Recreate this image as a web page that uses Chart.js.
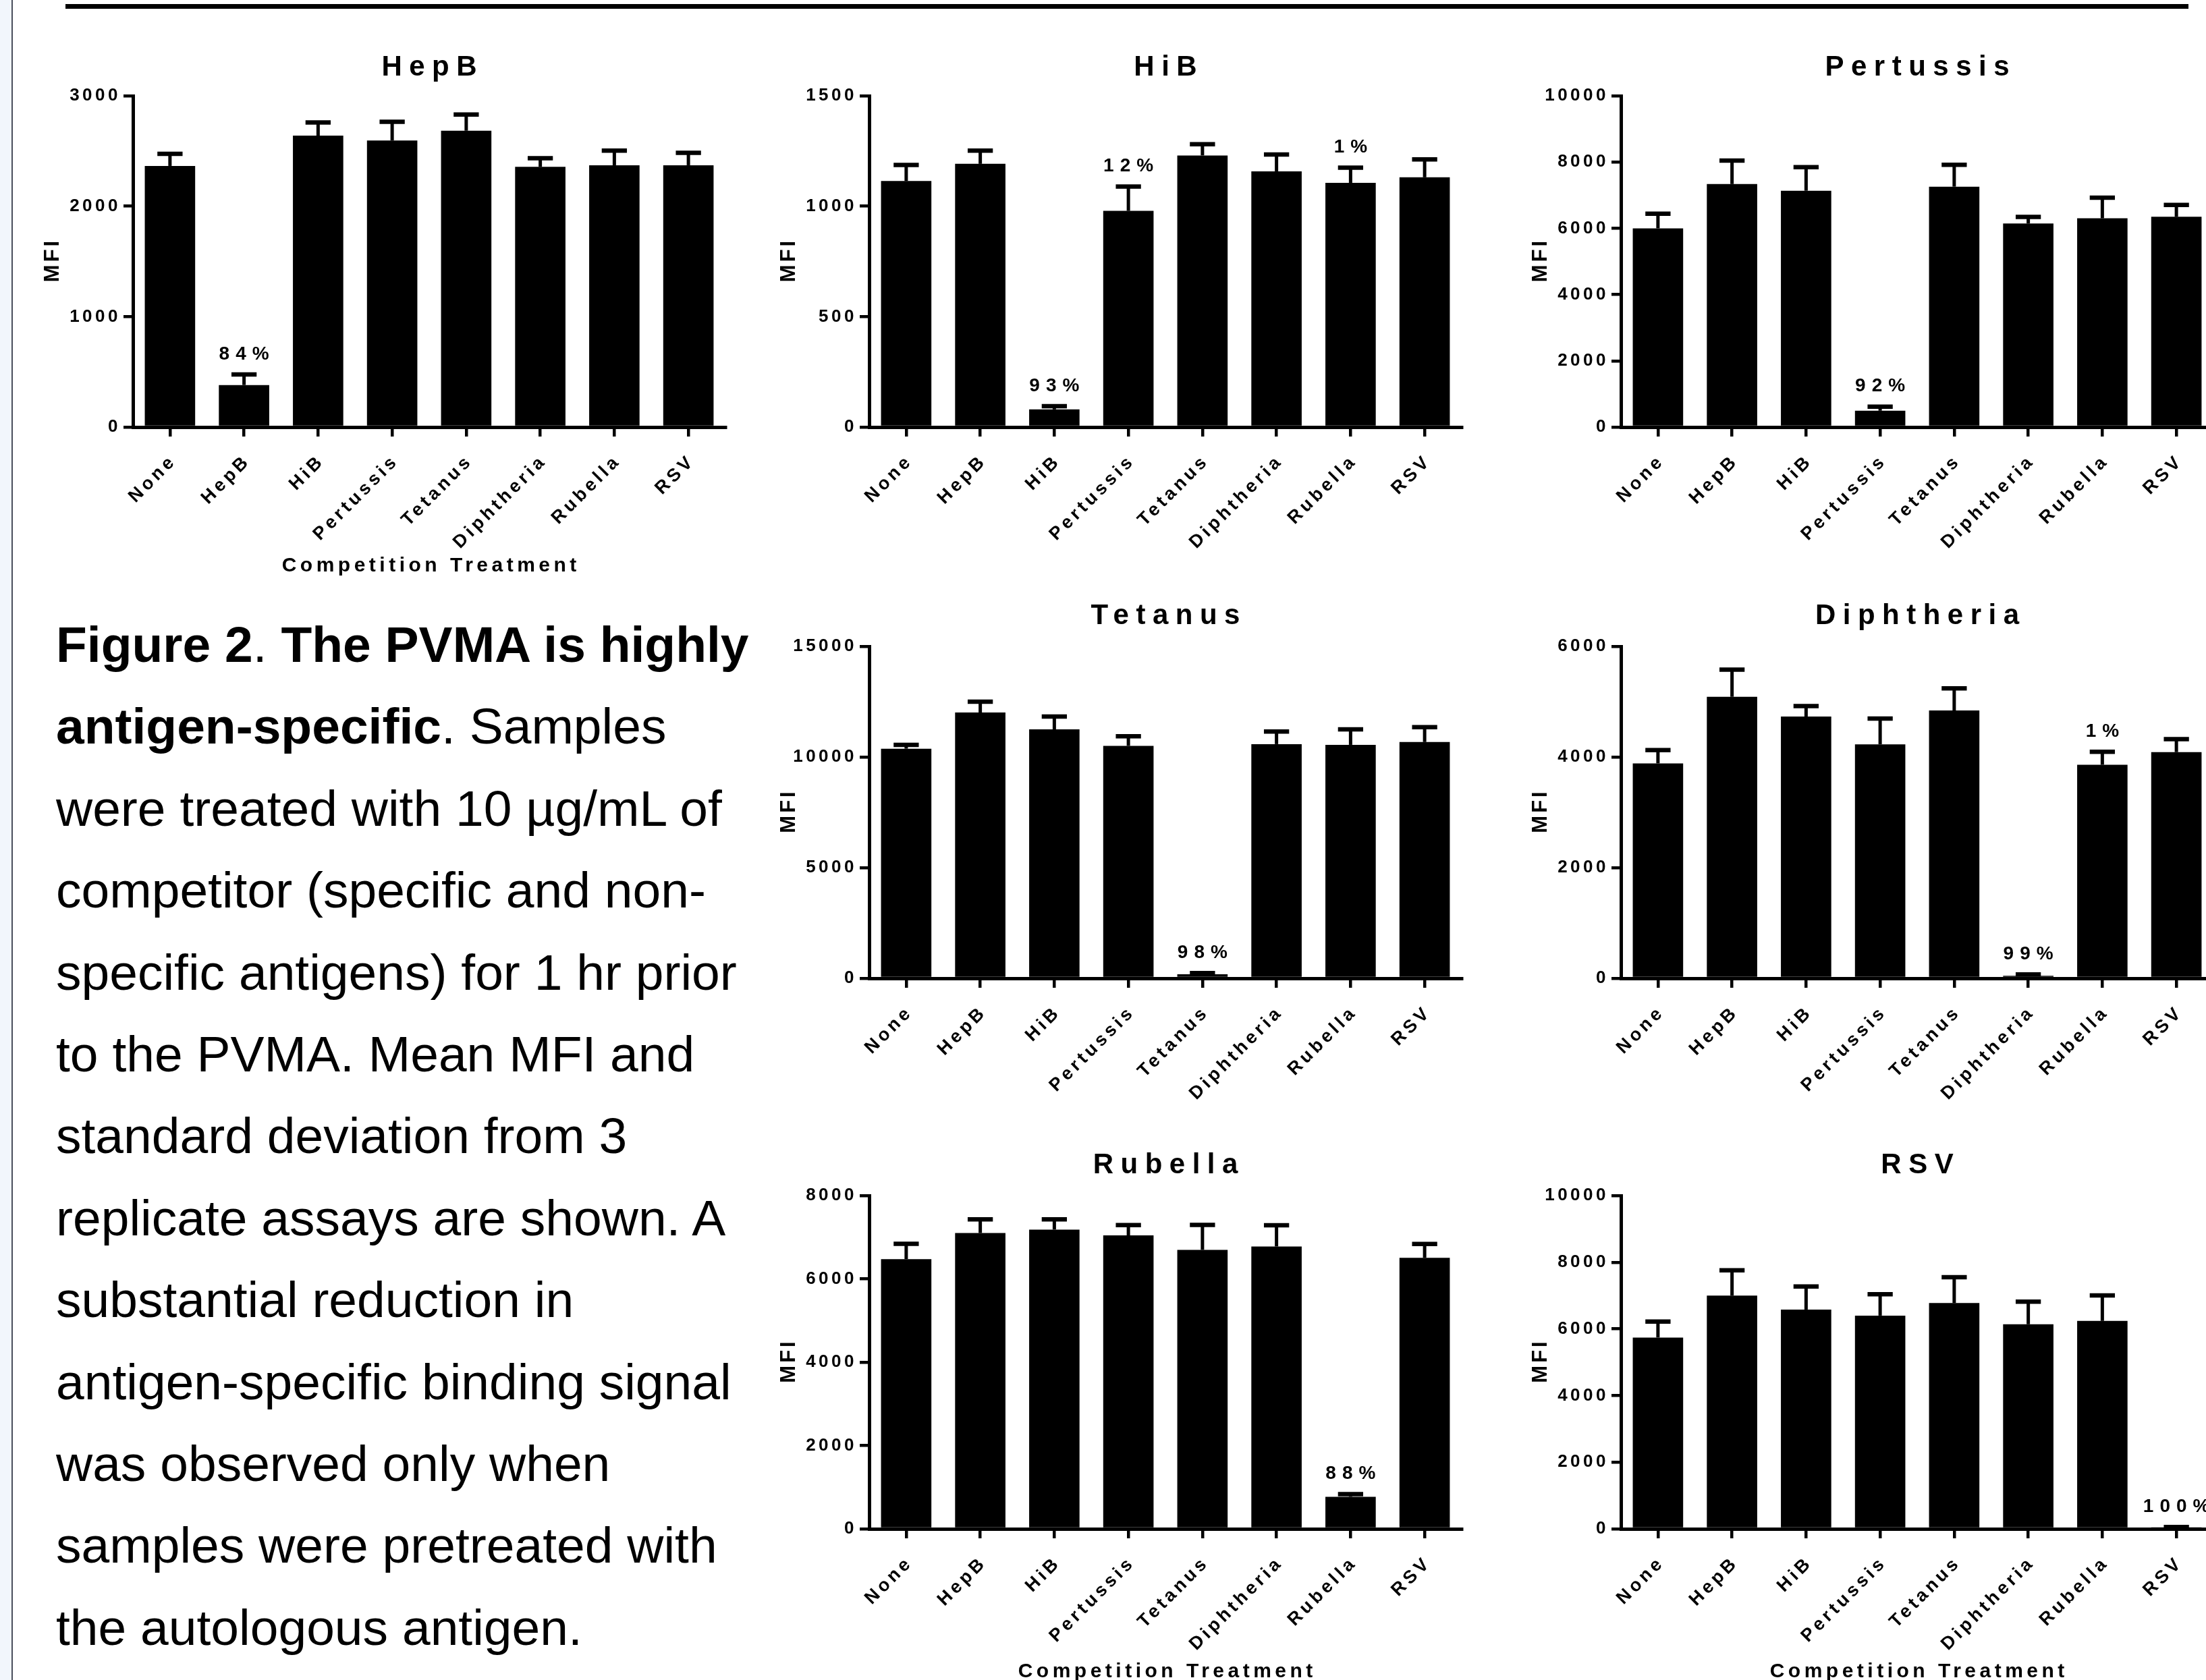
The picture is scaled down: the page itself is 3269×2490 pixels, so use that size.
<!DOCTYPE html>
<html>
<head>
<meta charset="utf-8">
<title>Figure 2. The PVMA is highly antigen-specific</title>
<script src="https://cdn.jsdelivr.net/npm/chart.js@4.4.1/dist/chart.umd.min.js"></script>
<style>
  html, body { margin: 0; padding: 0; background: #fff; overflow: hidden; }
  #page { position: relative; width: 3269px; height: 2490px; overflow: hidden; background: #fff; }
  .edge { position: absolute; left: 0; top: 0; width: 17px; height: 2490px; background: #f2f6fc; border-right: 2px solid #4a4f5c; }
  .rule { position: absolute; left: 97px; top: 6px; width: 3146px; height: 7px; background: #000; }
  .caption { position: absolute; left: 83px; top: 895px; font-family: "Liberation Sans", Arial, Helvetica, sans-serif;
             font-size: 75px; line-height: 121.4px; color: #000; white-space: nowrap; }
  canvas { position: absolute; }
</style>
</head>
<body>
<div id="page">
  <div class="edge"></div>
  <div class="rule"></div>
  <div class="caption">
    <div><b>Figure 2</b>. <b>The PVMA is highly</b></div>
    <div><b>antigen-specific</b>. Samples</div>
    <div>were treated with 10 µg/mL of</div>
    <div>competitor (specific and non-</div>
    <div>specific antigens) for 1 hr prior</div>
    <div>to the PVMA. Mean MFI and</div>
    <div>standard deviation from 3</div>
    <div>replicate assays are shown. A</div>
    <div>substantial reduction in</div>
    <div>antigen-specific binding signal</div>
    <div>was observed only when</div>
    <div>samples were pretreated with</div>
    <div>the autologous antigen.</div>
  </div>
</div>
<script>
// Competition treatments (x categories, same for every assay)
const categories = ['None', 'HepB', 'HiB', 'Pertussis', 'Tetanus', 'Diphtheria', 'Rubella', 'RSV'];

// HepB assay: mean MFI, SD, y ticks, treatments annotated with % reduction
const hepbMean   = [2365, 381, 2639, 2595, 2684, 2357, 2371, 2371];
const hepbSD     = [110, 95, 120, 170, 146, 78, 132, 112];
const hepbTicks  = [0, 1000, 2000, 3000];
const hepbMarked = [1];

// HiB assay
const hibMean   = [1114, 1192, 80, 979, 1230, 1158, 1106, 1131];
const hibSD     = [73, 60, 15, 110, 51, 76, 69, 81];
const hibTicks  = [0, 500, 1000, 1500];
const hibMarked = [2, 3, 6];

// Pertussis assay
const pertMean   = [6000, 7337, 7135, 494, 7258, 6146, 6303, 6348];
const pertSD     = [440, 710, 710, 124, 660, 200, 620, 360];
const pertTicks  = [0, 2000, 4000, 6000, 8000, 10000];
const pertMarked = [3];

// Tetanus assay
const tetMean   = [10377, 12013, 11250, 10504, 180, 10583, 10551, 10678];
const tetSD     = [175, 490, 580, 430, 60, 570, 700, 670];
const tetTicks  = [0, 5000, 10000, 15000];
const tetMarked = [4];

// Diphtheria assay
const diphMean   = [3885, 5089, 4732, 4229, 4841, 45, 3860, 4089];
const diphSD     = [240, 490, 190, 465, 400, 25, 235, 235];
const diphTicks  = [0, 2000, 4000, 6000];
const diphMarked = [5, 6];

// Rubella assay
const rubMean   = [6474, 7101, 7184, 7043, 6697, 6779, 770, 6507];
const rubSD     = [367, 330, 247, 248, 600, 510, 65, 330];
const rubTicks  = [0, 2000, 4000, 6000, 8000];
const rubMarked = [6];

// RSV assay
const rsvMean   = [5741, 7000, 6580, 6399, 6775, 6139, 6240, 25];
const rsvSD     = [480, 760, 690, 640, 777, 676, 763, 30];
const rsvTicks  = [0, 2000, 4000, 6000, 8000, 10000];
const rsvMarked = [7];

const xTitleText = 'Competition Treatment';
const yTitleText = 'MFI';

// ---- layout of the panel grid ----
const FONT = "'Liberation Sans', Arial, Helvetica, sans-serif";
const SPACING = { 42: 10.5, 26: 4.5, 27: 5, 31: 4, 30: 5.5, 28: 9 };   // letter spacing by font size
const colAxisX = [197, 1288, 2402];
const rowGeom = [
  { plotTop: 142, plotH: 491, titleGap: 42, xTitleGap: 206 },
  { plotTop: 958, plotH: 492, titleGap: 45, xTitleGap: 206 },
  { plotTop: 1772, plotH: 494, titleGap: 45, xTitleGap: 212 }
];
const LEFT = 180, TOP = 110, BOTTOM = 250, PLOT_W = 878, RIGHT = 20;

const panels = [
  { title: 'HepB',       mean: hepbMean, sd: hepbSD, ticks: hepbTicks, marked: hepbMarked, col: 0, row: 0, xTitle: true },
  { title: 'HiB',        mean: hibMean,  sd: hibSD,  ticks: hibTicks,  marked: hibMarked,  col: 1, row: 0, xTitle: false },
  { title: 'Pertussis',  mean: pertMean, sd: pertSD, ticks: pertTicks, marked: pertMarked, col: 2, row: 0, xTitle: false },
  { title: 'Tetanus',    mean: tetMean,  sd: tetSD,  ticks: tetTicks,  marked: tetMarked,  col: 1, row: 1, xTitle: false },
  { title: 'Diphtheria', mean: diphMean, sd: diphSD, ticks: diphTicks, marked: diphMarked, col: 2, row: 1, xTitle: false },
  { title: 'Rubella',    mean: rubMean,  sd: rubSD,  ticks: rubTicks,  marked: rubMarked,  col: 1, row: 2, xTitle: true },
  { title: 'RSV',        mean: rsvMean,  sd: rsvSD,  ticks: rsvTicks,  marked: rsvMarked,  col: 2, row: 2, xTitle: true }
];

// Spaced lettering for all canvas text (size-dependent tracking)
const spacedText = {
  id: 'spacedText',
  beforeInit(chart) {
    const ctx = chart.ctx;
    const fill = ctx.fillText;
    ctx.fillText = function (text, x, y, maxWidth) {
      const m = /(\d+(?:\.\d+)?)px/.exec(this.font);
      const ls = m ? (SPACING[parseFloat(m[1])] || 0) : 0;
      this.letterSpacing = ls + 'px';
      let dx = 0;
      if (this.textAlign === 'center') dx = ls / 2;
      else if (this.textAlign === 'right' || this.textAlign === 'end') dx = ls;
      if (maxWidth === undefined) return fill.call(this, text, x + dx, y);
      return fill.call(this, text, x + dx, y, maxWidth + ls * 2);
    };
  }
};

// Upper SD whiskers and % reduction labels
const errorBars = {
  id: 'errorBars',
  afterDatasetsDraw(chart) {
    const ctx = chart.ctx;
    const ds = chart.data.datasets[0];
    const meta = chart.getDatasetMeta(0);
    const y = chart.scales.y;
    ctx.save();
    ctx.strokeStyle = '#000';
    ctx.fillStyle = '#000';
    ctx.lineCap = 'butt';
    meta.data.forEach((bar, i) => {
      const capY = y.getPixelForValue(ds.data[i] + ds.sd[i]);
      const half = bar.width / 4;
      ctx.lineWidth = 5;
      ctx.beginPath();
      ctx.moveTo(bar.x, bar.y);
      ctx.lineTo(bar.x, capY);
      ctx.stroke();
      ctx.lineWidth = 6.5;
      ctx.beginPath();
      ctx.moveTo(bar.x - half, capY);
      ctx.lineTo(bar.x + half, capY);
      ctx.stroke();
      if (ds.marked.includes(i)) {
        const pct = Math.round((1 - ds.data[i] / ds.data[0]) * 100);
        ctx.font = 'bold 28px ' + FONT;
        ctx.textAlign = 'center';
        ctx.textBaseline = 'middle';
        ctx.fillText(pct + '%', bar.x, capY - 30);
      }
    });
    ctx.restore();
  }
};

const page = document.getElementById('page');

panels.forEach(p => {
  const g = rowGeom[p.row];
  const canvas = document.createElement('canvas');
  const w = LEFT + PLOT_W + RIGHT;
  const h = TOP + g.plotH + BOTTOM;
  canvas.width = w;
  canvas.height = h;
  canvas.style.width = w + 'px';
  canvas.style.height = h + 'px';
  canvas.style.left = (colAxisX[p.col] - LEFT) + 'px';
  canvas.style.top = (g.plotTop - TOP) + 'px';
  page.appendChild(canvas);

  const titleLH = 42 * 1.2;
  const yTitleLH = 31 * 1.2;
  const xTitleLH = 30 * 1.2;

  new Chart(canvas, {
    type: 'bar',
    data: {
      labels: categories,
      datasets: [{
        data: p.mean,
        sd: p.sd,
        marked: p.marked,
        backgroundColor: '#000',
        borderWidth: 0,
        barPercentage: 0.68,
        categoryPercentage: 1
      }]
    },
    options: {
      responsive: false,
      animation: false,
      devicePixelRatio: 1,
      events: [],
      layout: { padding: { left: 0, right: RIGHT, top: 0, bottom: 0 } },
      plugins: {
        legend: { display: false },
        tooltip: { enabled: false },
        title: {
          display: true,
          text: p.title,
          fullSize: false,
          color: '#000',
          font: { family: FONT, size: 42, weight: 'bold', lineHeight: 1.2 },
          padding: { top: TOP - g.titleGap - titleLH / 2, bottom: g.titleGap - titleLH / 2 }
        }
      },
      scales: {
        x: {
          offset: true,
          grid: { offset: false, drawOnChartArea: false, drawTicks: true, tickLength: 14, lineWidth: 4.5, color: '#000' },
          border: { display: true, width: 5, color: '#000' },
          ticks: {
            color: '#000',
            font: { family: FONT, size: 27, weight: 'bold' },
            minRotation: 45, maxRotation: 45, autoSkip: false,
            padding: 24, labelOffset: 2
          },
          title: {
            display: p.xTitle,
            text: xTitleText,
            color: '#000',
            font: { family: FONT, size: 30, weight: 'bold', lineHeight: 1.2 },
            padding: { top: 0, bottom: BOTTOM - g.xTitleGap - xTitleLH / 2 }
          },
          afterFit: s => { s.height = BOTTOM; }
        },
        y: {
          min: p.ticks[0],
          max: p.ticks[p.ticks.length - 1],
          grid: { drawOnChartArea: false, drawTicks: true, tickLength: 14, lineWidth: 4.5, color: '#000' },
          border: { display: true, width: 5, color: '#000' },
          ticks: {
            stepSize: p.ticks[1] - p.ticks[0],
            color: '#000',
            font: { family: FONT, size: 26, weight: 'bold' },
            padding: 8.5,
            callback: v => String(v)
          },
          title: {
            display: true,
            text: yTitleText,
            color: '#000',
            font: { family: FONT, size: 31, weight: 'bold', lineHeight: 1.2 },
            padding: { top: LEFT - 119 - yTitleLH / 2, bottom: 0 }
          },
          afterFit: s => { s.width = LEFT; }
        }
      }
    },
    plugins: [spacedText, errorBars]
  });
});
</script>
</body>
</html>
